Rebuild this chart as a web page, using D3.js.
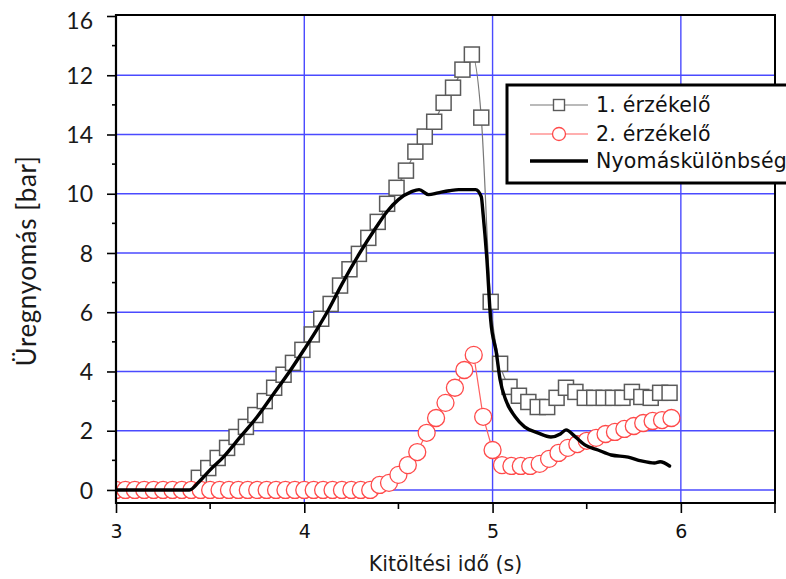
<!DOCTYPE html>
<html>
<head>
<meta charset="utf-8">
<script src="https://cdn.jsdelivr.net/npm/d3@7"></script>
<style>
  html, body { margin: 0; padding: 0; background: #fff; }
  svg { display: block; }
</style>
</head>
<body>
<svg id="chart" width="786" height="579"></svg>
<script>
// Sensor 1 (squares)
const sensor1Time = [3.44, 3.49, 3.54, 3.59, 3.64, 3.69, 3.74, 3.79, 3.84, 3.89,
  3.94, 3.99, 4.04, 4.09, 4.14, 4.19, 4.24, 4.29, 4.34, 4.39,
  4.44, 4.49, 4.54, 4.59, 4.64, 4.69, 4.74, 4.79, 4.84, 4.89,
  4.94, 4.99, 5.04, 5.09, 5.14, 5.19, 5.24, 5.29, 5.34, 5.39,
  5.44, 5.49, 5.54, 5.59, 5.64, 5.69, 5.74, 5.79, 5.84, 5.89, 5.94];
const sensor1Value = [0.41, 0.74, 1.08, 1.42, 1.79, 2.13, 2.53, 3.00, 3.45, 3.89,
  4.29, 4.73, 5.25, 5.78, 6.28, 6.90, 7.45, 7.97, 8.51, 9.05,
  9.66, 10.20, 10.78, 11.42, 11.93, 12.43, 13.07, 13.58, 14.19, 14.70,
  12.57, 6.35, 4.26, 3.48, 3.18, 2.97, 2.80, 2.80, 3.11, 3.45,
  3.31, 3.11, 3.11, 3.11, 3.11, 3.11, 3.31, 3.14, 3.11, 3.28, 3.28];

// Sensor 2 (circles)
const sensor2Time = [3.00, 3.05, 3.10, 3.15, 3.20, 3.25, 3.30, 3.35, 3.40, 3.45,
  3.50, 3.55, 3.60, 3.65, 3.70, 3.75, 3.80, 3.85, 3.90, 3.95,
  4.00, 4.05, 4.10, 4.15, 4.20, 4.25, 4.30, 4.35, 4.40, 4.45,
  4.50, 4.55, 4.60, 4.65, 4.70, 4.75, 4.80, 4.85, 4.90, 4.95,
  5.00, 5.05, 5.10, 5.15, 5.20, 5.25, 5.30, 5.35, 5.40, 5.45,
  5.50, 5.55, 5.60, 5.65, 5.70, 5.75, 5.80, 5.85, 5.90, 5.95];
const sensor2Value = [0, 0, 0, 0, 0, 0, 0, 0, 0, 0,
  0, 0, 0, 0, 0, 0, 0, 0, 0, 0,
  0, 0, 0, 0, 0, 0, 0, 0, 0.17, 0.24,
  0.51, 0.84, 1.28, 1.93, 2.43, 2.94, 3.45, 4.05, 4.56, 2.47,
  1.35, 0.84, 0.81, 0.81, 0.81, 0.88, 1.05, 1.25, 1.42, 1.55,
  1.66, 1.76, 1.89, 1.96, 2.06, 2.16, 2.26, 2.33, 2.36, 2.43];

// Pressure difference (thick line)
const diffTime = [3.00, 3.39, 3.44, 3.50, 3.57, 3.66, 3.75, 3.83, 3.92, 4.00,
  4.07, 4.13, 4.20, 4.29, 4.38, 4.44, 4.50, 4.57, 4.61, 4.66,
  4.71, 4.77, 4.82, 4.91, 4.94, 4.95, 4.97, 4.99, 5.02, 5.04,
  5.07, 5.12, 5.17, 5.24, 5.31, 5.36, 5.39, 5.44, 5.49, 5.56,
  5.63, 5.72, 5.79, 5.86, 5.89, 5.94];
const diffValue = [0, 0, 0.27, 0.68, 1.11, 1.79, 2.47, 3.18, 3.98, 4.75,
  5.45, 6.10, 6.95, 7.95, 8.85, 9.40, 9.80, 10.07, 10.14, 9.97,
  10.03, 10.10, 10.14, 10.14, 9.90, 9.29, 7.77, 5.74, 4.63, 3.72,
  3.04, 2.47, 2.13, 1.93, 1.79, 1.89, 2.03, 1.79, 1.52, 1.35,
  1.18, 1.11, 0.98, 0.91, 0.95, 0.81];

// Axes
const yTickValues = [0, 2, 4, 6, 8, 10, 12, 14, 16];
const yTickLabels = ["0", "2", "4", "6", "8", "10", "14", "12", "16"];
const yMinorValues = [1, 3, 5, 7, 9, 11, 13, 15];
const xTickValues = [3, 4, 5, 6];
const xTickLabels = ["3", "4", "5", "6"];
const xMinorValues = [3.5, 4.5, 5.5, 6.5];
const xGridValues = [4, 5, 6];
const yGridValues = [0, 2, 4, 6, 8, 10, 12, 14];

const seriesNames = ["1. érzékelő", "2. érzékelő", "Nyomáskülönbség"];
const xTitle = "Kitöltési idő (s)";
const yTitle = "Üregnyomás [bar]";

const svg = d3.select("#chart");
const plot = { left: 116, right: 775, top: 16, bottom: 503 };

const x = d3.scaleLinear().domain([3, 6.5]).range([plot.left, plot.right]);
const y = d3.scaleLinear().domain([-0.44, 16]).range([plot.bottom, plot.top]);

svg.append("defs").append("clipPath").attr("id", "plotClip")
  .append("rect")
  .attr("x", plot.left).attr("y", plot.top - 2)
  .attr("width", plot.right - plot.left).attr("height", plot.bottom - plot.top + 2);

// grid
const grid = svg.append("g");
grid.selectAll("line.h").data(yGridValues).join("line")
  .attr("x1", plot.left).attr("x2", plot.right)
  .attr("y1", d => y(d)).attr("y2", d => y(d))
  .attr("stroke", "#4a4aff").attr("stroke-width", 1.4);
grid.selectAll("line.v").data(xGridValues).join("line")
  .attr("y1", plot.top).attr("y2", plot.bottom)
  .attr("x1", d => x(d)).attr("x2", d => x(d))
  .attr("stroke", "#4a4aff").attr("stroke-width", 1.4);

const marks = svg.append("g").attr("clip-path", "url(#plotClip)");

const s1 = sensor1Time.map((t, i) => [t, sensor1Value[i]]);
const s2 = sensor2Time.map((t, i) => [t, sensor2Value[i]]);
const pd = diffTime.map((t, i) => [t, diffValue[i]]);

const lineGen = d3.line().x(d => x(d[0])).y(d => y(d[1])).curve(d3.curveMonotoneX);

// sensor 1
marks.append("path").datum(s1).attr("d", lineGen)
  .attr("fill", "none").attr("stroke", "#777").attr("stroke-width", 1.2);
const sq = 15;
marks.append("g").selectAll("rect").data(s1).join("rect")
  .attr("x", d => x(d[0]) - sq / 2).attr("y", d => y(d[1]) - sq / 2)
  .attr("width", sq).attr("height", sq)
  .attr("fill", "#fff").attr("stroke", "#5a5a5a").attr("stroke-width", 1.5);

// sensor 2
marks.append("path").datum(s2).attr("d", d3.line().x(d => x(d[0])).y(d => y(d[1])))
  .attr("fill", "none").attr("stroke", "#ff6060").attr("stroke-width", 1.2);
marks.append("g").selectAll("circle").data(s2).join("circle")
  .attr("cx", d => x(d[0])).attr("cy", d => y(d[1])).attr("r", 8.5)
  .attr("fill", "#fff").attr("stroke", "#ff4a4a").attr("stroke-width", 1.3);

// pressure difference
marks.append("path").datum(pd).attr("d", lineGen)
  .attr("fill", "none").attr("stroke", "#000").attr("stroke-width", 3.4)
  .attr("stroke-linejoin", "round").attr("stroke-linecap", "round");

// frame
const frame = svg.append("g").attr("stroke", "#000").attr("stroke-width", 2).attr("fill", "none");
frame.append("line").attr("x1", plot.left).attr("x2", plot.right).attr("y1", plot.top - 1).attr("y2", plot.top - 1);
frame.append("line").attr("x1", plot.right).attr("x2", plot.right).attr("y1", plot.top - 2).attr("y2", plot.bottom);

// y axis
const yAxis = d3.axisLeft(y).tickValues(yTickValues)
  .tickFormat((d, i) => yTickLabels[i]).tickSize(9).tickSizeOuter(0).tickPadding(14);
const yg = svg.append("g").attr("transform", `translate(${plot.left},0)`).call(yAxis);
yg.select(".domain").attr("stroke", "#000").attr("stroke-width", 2.2)
  .attr("d", `M0,${plot.top - 2}V${plot.bottom + 1}`);
yg.selectAll(".tick line").attr("stroke", "#000").attr("stroke-width", 1.6);
yg.selectAll(".tick text")
  .attr("font-family", "Lato, 'Open Sans', sans-serif").attr("font-size", 23)
  .attr("fill", "#1a1a1a")
  .attr("dy", (d) => d === 16 ? "0.55em" : "0.35em");
yg.selectAll("line.minor").data(yMinorValues).join("line").attr("class", "minor")
  .attr("x1", -4).attr("x2", 0).attr("y1", d => y(d)).attr("y2", d => y(d))
  .attr("stroke", "#000").attr("stroke-width", 1.6);

// x axis
const xAxis = d3.axisBottom(x).tickValues(xTickValues)
  .tickFormat((d, i) => xTickLabels[i]).tickSize(10).tickSizeOuter(0).tickPadding(12);
const xg = svg.append("g").attr("transform", `translate(0,${plot.bottom})`).call(xAxis);
xg.select(".domain").attr("stroke", "#000").attr("stroke-width", 2.2)
  .attr("d", `M${plot.left - 1},0H${plot.right + 1}`);
xg.selectAll(".tick line").attr("stroke", "#000").attr("stroke-width", 1.6);
xg.selectAll(".tick text")
  .attr("font-family", "'DejaVu Sans', sans-serif").attr("font-size", 19)
  .attr("fill", "#111");
xg.selectAll("line.minor").data(xMinorValues).join("line").attr("class", "minor")
  .attr("y1", 0).attr("y2", d => d === 6.5 ? 10 : 6).attr("x1", d => x(d)).attr("x2", d => x(d))
  .attr("stroke", "#000").attr("stroke-width", 1.6);

// titles
svg.append("text").attr("x", x(4.75)).attr("y", 571)
  .attr("text-anchor", "middle")
  .attr("font-family", "'DejaVu Sans', sans-serif").attr("font-size", 20.5)
  .attr("fill", "#1a1a1a").text(xTitle);
svg.append("text").attr("transform", "translate(36,261) rotate(-90)")
  .attr("text-anchor", "middle")
  .attr("font-family", "Lato, 'Open Sans', sans-serif").attr("font-size", 26)
  .attr("letter-spacing", 0.6)
  .attr("fill", "#1a1a1a").text(yTitle);

// legend
const legend = svg.append("g");
legend.append("rect").attr("x", 507).attr("y", 85).attr("width", 320).attr("height", 98)
  .attr("fill", "#fff").attr("stroke", "#000").attr("stroke-width", 3);
const rowsY = [105, 134, 161];
const lx1 = 530, lx2 = 588, lmx = 559;
// row 1
legend.append("line").attr("x1", lx1).attr("x2", lx2).attr("y1", rowsY[0]).attr("y2", rowsY[0])
  .attr("stroke", "#777").attr("stroke-width", 1.2);
legend.append("rect").attr("x", lmx - 5.5).attr("y", rowsY[0] - 5.5).attr("width", 11).attr("height", 11)
  .attr("fill", "#fff").attr("stroke", "#5a5a5a").attr("stroke-width", 1.4);
// row 2
legend.append("line").attr("x1", lx1).attr("x2", lx2).attr("y1", rowsY[1]).attr("y2", rowsY[1])
  .attr("stroke", "#ff6060").attr("stroke-width", 1.2);
legend.append("circle").attr("cx", lmx).attr("cy", rowsY[1]).attr("r", 6.5)
  .attr("fill", "#fff").attr("stroke", "#ff4a4a").attr("stroke-width", 1.3);
// row 3
legend.append("line").attr("x1", lx1).attr("x2", lx2).attr("y1", rowsY[2]).attr("y2", rowsY[2])
  .attr("stroke", "#000").attr("stroke-width", 3.4);
legend.selectAll("text").data(seriesNames).join("text")
  .attr("x", 596).attr("y", (d, i) => rowsY[i]).attr("dy", "0.36em")
  .attr("font-family", "'DejaVu Sans', sans-serif").attr("font-size", 20.5)
  .attr("letter-spacing", 0.2)
  .attr("fill", "#111").text(d => d);
</script>
</body>
</html>
